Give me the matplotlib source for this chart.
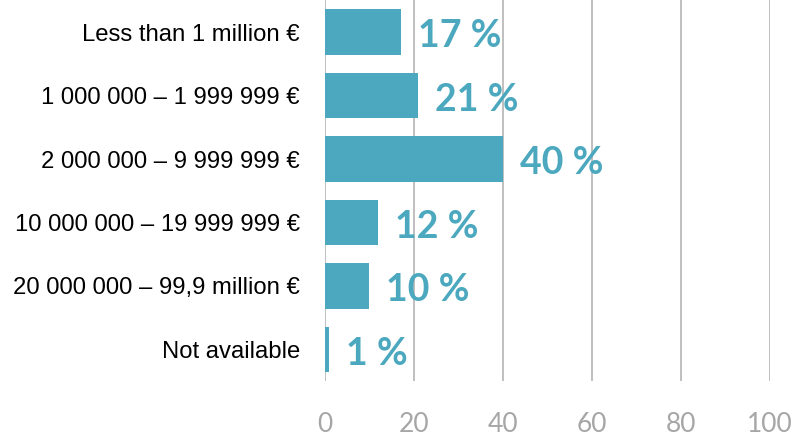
"""Horizontal bar chart: distribution by turnover band."""

import matplotlib

matplotlib.use("Agg")

import matplotlib.pyplot as plt

categories = [
    "Less than 1 million €",
    "1 000 000 – 1 999 999 €",
    "2 000 000 – 9 999 999 €",
    "10 000 000 – 19 999 999 €",
    "20 000 000 – 99,9 million €",
    "Not available",
]
shares = [17, 21, 40, 12, 10, 1]
x_ticks = [0, 20, 40, 60, 80, 100]

BAR_COLOR = "#4BA8BE"
GRID_COLOR = "#BFBFBF"
TICK_COLOR = "#A6A6A6"


def main() -> None:
    fig = plt.figure(figsize=(7.94, 4.38), dpi=100)
    ax = fig.add_axes([0.4093, 0.130, 0.5605, 0.869])

    positions = list(range(len(categories)))
    ax.barh(positions, shares, height=0.72, color=BAR_COLOR, zorder=3)

    for pos, value in zip(positions, shares):
        ax.text(
            value + 3.8, pos + 0.02, f"{value} %",
            va="center_baseline", ha="left", color=BAR_COLOR,
            fontsize=27, fontweight="bold", family="Lato", zorder=4,
        )

    ax.set_xlim(0, 100)
    ax.set_ylim(len(categories) - 0.5, -0.5)
    ax.set_xticks(x_ticks)
    ax.set_xticklabels([str(t) for t in x_ticks], family="Lato", fontsize=19, color=TICK_COLOR)
    ax.set_yticks(positions)
    ax.set_yticklabels(categories, family="Liberation Sans", fontsize=17.2, color="black")
    ax.tick_params(axis="both", length=0)
    ax.tick_params(axis="y", pad=18)
    ax.tick_params(axis="x", pad=22)

    ax.grid(axis="x", color=GRID_COLOR, linewidth=1.4, zorder=0)
    for spine in ax.spines.values():
        spine.set_visible(False)

    fig.savefig("out.png", dpi=100)
    plt.close(fig)


if __name__ == "__main__":
    main()
